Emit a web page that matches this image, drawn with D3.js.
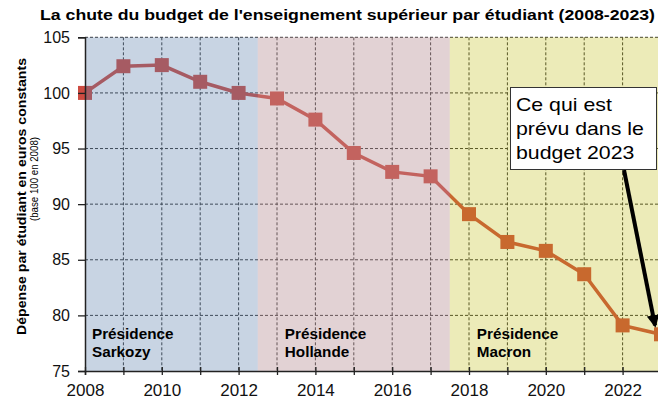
<!DOCTYPE html>
<html>
<head>
<meta charset="utf-8">
<script src="https://cdn.jsdelivr.net/npm/d3@7"></script>
<style>
  body { margin: 0; background: white; }
  svg { display: block; font-family: "Liberation Sans", Arial, sans-serif; }
</style>
</head>
<body>
<svg id="chart" width="658" height="400"></svg>
<script>
// data
var years = [2008, 2009, 2010, 2011, 2012, 2013, 2014, 2015, 2016, 2017, 2018, 2019, 2020, 2021, 2022, 2023];
var spending = [100, 102.4, 102.5, 101.0, 100.0, 99.5, 97.6, 94.6, 92.9, 92.5, 89.1, 86.6, 85.8, 83.7, 79.1, 78.3];
var presidents = ["Sarkozy", "Hollande", "Macron"];
var termStart = [2008, 2012.5, 2017.5];
var termEnd = [2012.5, 2017.5, 2023];
var termColors = ["rgb(88,124,170)", "rgb(180,139,145)", "rgb(186,182,0)"];
var termAlpha = [0.33, 0.39, 0.28];
var yTicks = [75, 80, 85, 90, 95, 100, 105];
var xTicks = [2008, 2010, 2012, 2014, 2016, 2018, 2020, 2022];
var noteLines = ["Ce qui est", "prévu dans le", "budget 2023"];

var svg = d3.select("#chart");

var xScale = d3.scaleLinear()
    .domain([2008, 2023])
    .range([85, 661]);

var yScale = d3.scaleLinear()
    .domain([75, 105])
    .range([371, 37.3]);

// the reference text is a bit wider than the font, stretch it
function stretch(sel, factor) {
    var w = sel.node().getComputedTextLength();
    sel.attr("textLength", w * factor).attr("lengthAdjust", "spacingAndGlyphs");
}

// title
svg.append("text")
    .attr("x", 40)
    .attr("y", 20)
    .style("font-size", "15px")
    .style("font-weight", "bold")
    .attr("textLength", 615)
    .attr("lengthAdjust", "spacingAndGlyphs")
    .text("La chute du budget de l'enseignement supérieur par étudiant (2008-2023)");

// y title
svg.append("text")
    .attr("transform", "translate(26,335) rotate(-90)")
    .style("font-size", "12px")
    .style("font-weight", "bold")
    .attr("textLength", 277)
    .attr("lengthAdjust", "spacingAndGlyphs")
    .text("Dépense par étudiant en euros constants");

svg.append("text")
    .attr("transform", "translate(38,221) rotate(-90)")
    .style("font-size", "11px")
    .attr("textLength", 84)
    .attr("lengthAdjust", "spacingAndGlyphs")
    .text("(base 100 en 2008)");

var plot = svg.append("g");

// gridlines
plot.selectAll("line.vgrid")
    .data(years.slice(1))
    .join("line")
    .attr("class", "vgrid")
    .attr("x1", d => xScale(d))
    .attr("x2", d => xScale(d))
    .attr("y1", yScale(105))
    .attr("y2", yScale(75))
    .attr("stroke", "#333")
    .attr("stroke-width", 1)
    .attr("stroke-dasharray", "3,2");

plot.selectAll("line.hgrid")
    .data(yTicks.slice(1))
    .join("line")
    .attr("class", "hgrid")
    .attr("x1", xScale(2008))
    .attr("x2", xScale(2023))
    .attr("y1", d => yScale(d))
    .attr("y2", d => yScale(d))
    .attr("stroke", "#333")
    .attr("stroke-width", 1)
    .attr("stroke-dasharray", "3,2");

// line + markers (tinted by the shading drawn over them)
var line = d3.line()
    .x((d, i) => xScale(years[i]))
    .y(d => yScale(d));

plot.append("path")
    .datum(spending)
    .attr("fill", "none")
    .attr("stroke", "rgb(205,75,65)")
    .attr("stroke-width", 3.5)
    .attr("d", line);

plot.selectAll("rect.mark")
    .data(spending)
    .join("rect")
    .attr("class", "mark")
    .attr("x", (d, i) => xScale(years[i]) - 7)
    .attr("y", d => yScale(d) - 7)
    .attr("width", 14)
    .attr("height", 14)
    .attr("fill", "rgb(205,75,65)");

// shaded presidencies on top
plot.selectAll("rect.term")
    .data(presidents)
    .join("rect")
    .attr("class", "term")
    .attr("x", (d, i) => xScale(termStart[i]))
    .attr("width", (d, i) => xScale(termEnd[i]) - xScale(termStart[i]))
    .attr("y", yScale(105))
    .attr("height", yScale(75) - yScale(105))
    .attr("fill", (d, i) => termColors[i])
    .attr("fill-opacity", (d, i) => termAlpha[i]);

// region labels
presidents.forEach(function (p, i) {
    var lx = xScale(termStart[i]) + 7 + (i > 0 ? 20 : 0);
    var t1 = svg.append("text")
        .attr("x", lx)
        .attr("y", 339)
        .style("font-size", "14px")
        .style("font-weight", "bold")
        .text("Présidence");
    stretch(t1, 1.09);
    var t2 = svg.append("text")
        .attr("x", lx)
        .attr("y", 356.5)
        .style("font-size", "14px")
        .style("font-weight", "bold")
        .text(p);
    stretch(t2, 1.09);
});

// axes
var yAxis = svg.append("g")
    .attr("transform", "translate(" + xScale(2008) + ",0)")
    .call(d3.axisLeft(yScale).tickValues(yTicks).tickSize(7).tickPadding(8));
yAxis.select(".domain").attr("stroke", "#222").attr("stroke-width", 1.5);
yAxis.selectAll(".tick line").attr("stroke", "#222").attr("stroke-width", 1.3);
yAxis.selectAll("text").style("font-size", "16px").style("fill", "#111")
    .style("font-family", "\"Liberation Sans\", Arial, sans-serif");

var xAxis = svg.append("g")
    .attr("transform", "translate(0," + yScale(75) + ")")
    .call(d3.axisBottom(xScale).tickValues(years).tickSize(4).tickFormat(d => xTicks.includes(d) ? d : ""));
xAxis.select(".domain").attr("stroke", "#222").attr("stroke-width", 1.5);
xAxis.selectAll(".tick line").attr("y1", -4).attr("stroke", "#222").attr("stroke-width", 1.3);
xAxis.selectAll("text")
    .attr("y", 25)
    .attr("dy", null)
    .style("font-size", "17px").style("fill", "#111")
    .style("font-family", "\"Liberation Sans\", Arial, sans-serif");

// annotation
var defs = svg.append("defs");
defs.append("marker")
    .attr("id", "arrow")
    .attr("viewBox", "0 0 10 10")
    .attr("refX", 8)
    .attr("refY", 5)
    .attr("markerWidth", 3.2)
    .attr("markerHeight", 3.2)
    .attr("orient", "auto")
    .append("path")
    .attr("d", "M0,0 L10,5 L0,10 z")
    .attr("fill", "black");

svg.append("line")
    .attr("x1", 624)
    .attr("y1", 170)
    .attr("x2", xScale(2023) - 6)
    .attr("y2", yScale(spending[15]) - 9)
    .attr("stroke", "black")
    .attr("stroke-width", 4)
    .attr("marker-end", "url(#arrow)");

svg.append("rect")
    .attr("x", 510.5)
    .attr("y", 87.5)
    .attr("width", 146)
    .attr("height", 82)
    .attr("fill", "white")
    .attr("stroke", "#333")
    .attr("stroke-width", 1);

noteLines.forEach(function (s, i) {
    var t = svg.append("text")
        .attr("x", 516)
        .attr("y", 110.5 + i * 24)
        .style("font-size", "18.5px")
        .text(s);
    stretch(t, 1.15);
});
</script>
</body>
</html>
